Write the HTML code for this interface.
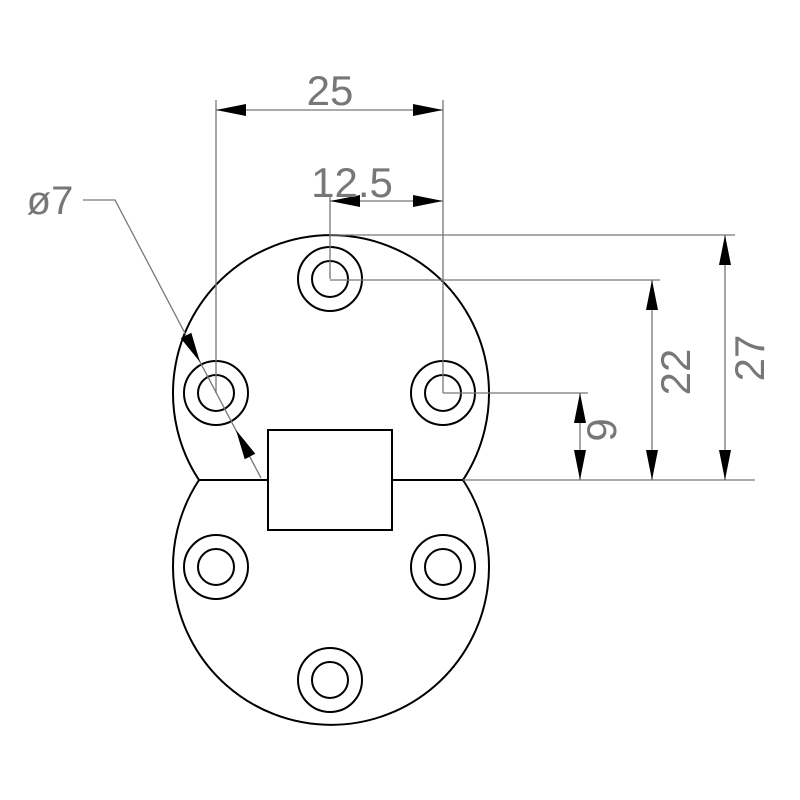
<!DOCTYPE html>
<html><head><meta charset="utf-8"><style>html,body{margin:0;padding:0;background:#fff}svg{display:block}</style></head>
<body>
<svg width="800" height="800" viewBox="0 0 800 800" xmlns="http://www.w3.org/2000/svg">
<defs>
<marker id="a" viewBox="0 0 30 12" refX="30" refY="6" markerWidth="30" markerHeight="12" markerUnits="userSpaceOnUse" orient="auto-start-reverse"><path d="M0,0L30,6L0,12Z" fill="#000"/></marker>
</defs>
<g fill="none" stroke="#000" stroke-width="2">
<path d="M199,480 A158,158 0 1 1 463,480"/>
<path d="M199,480 A158,158 0 1 0 463,480"/>
<path d="M199,480 L268,480 M392,480 L463,480"/>
<rect x="268" y="430" width="124" height="100"/>
<circle cx="330" cy="279" r="32"/><circle cx="330" cy="279" r="18"/>
<circle cx="216" cy="393" r="32"/><circle cx="216" cy="393" r="18"/>
<circle cx="443" cy="393" r="32"/><circle cx="443" cy="393" r="18"/>
<circle cx="216" cy="567" r="32"/><circle cx="216" cy="567" r="18"/>
<circle cx="443" cy="567" r="32"/><circle cx="443" cy="567" r="18"/>
<circle cx="330" cy="680" r="32"/><circle cx="330" cy="680" r="18"/>
</g>
<g fill="none" stroke="#777" stroke-width="1.3">
<line x1="216" y1="100" x2="216" y2="393"/>
<line x1="443" y1="100" x2="443" y2="393"/>
<line x1="330" y1="195" x2="330" y2="279"/>
<line x1="330" y1="235" x2="735" y2="235"/>
<line x1="330" y1="280" x2="660" y2="280"/>
<line x1="443" y1="393" x2="588" y2="393"/>
<line x1="463" y1="480" x2="755" y2="480"/>
<polyline points="83,200 115,200 261,478"/>
</g>
<g stroke="#777" stroke-width="1.3">
<line x1="216" y1="110" x2="443" y2="110" marker-start="url(#a)" marker-end="url(#a)"/>
<line x1="330" y1="201" x2="443" y2="201" marker-start="url(#a)" marker-end="url(#a)"/>
<line x1="725" y1="235" x2="725" y2="480" marker-start="url(#a)" marker-end="url(#a)"/>
<line x1="652" y1="280" x2="652" y2="480" marker-start="url(#a)" marker-end="url(#a)"/>
<line x1="580" y1="393" x2="580" y2="480" marker-start="url(#a)" marker-end="url(#a)"/>
</g>
<g fill="#000">
<polygon points="200,362 180.7,338.3 191.3,332.7"/>
<polygon points="236,430 244.7,459.3 255.3,453.7"/>
</g>
<g font-family="Liberation Sans, sans-serif" fill="#777" font-size="42">
<text x="330" y="105" text-anchor="middle">25</text>
<text x="352" y="197" text-anchor="middle">12.5</text>
<text x="50" y="214" text-anchor="middle" font-size="40">ø7</text>
<text transform="translate(690,372) rotate(-90)" text-anchor="middle">22</text>
<text transform="translate(764,358) rotate(-90)" text-anchor="middle">27</text>
<text transform="translate(616,430) rotate(-90)" text-anchor="middle">9</text>
</g>
</svg>
</body></html>
